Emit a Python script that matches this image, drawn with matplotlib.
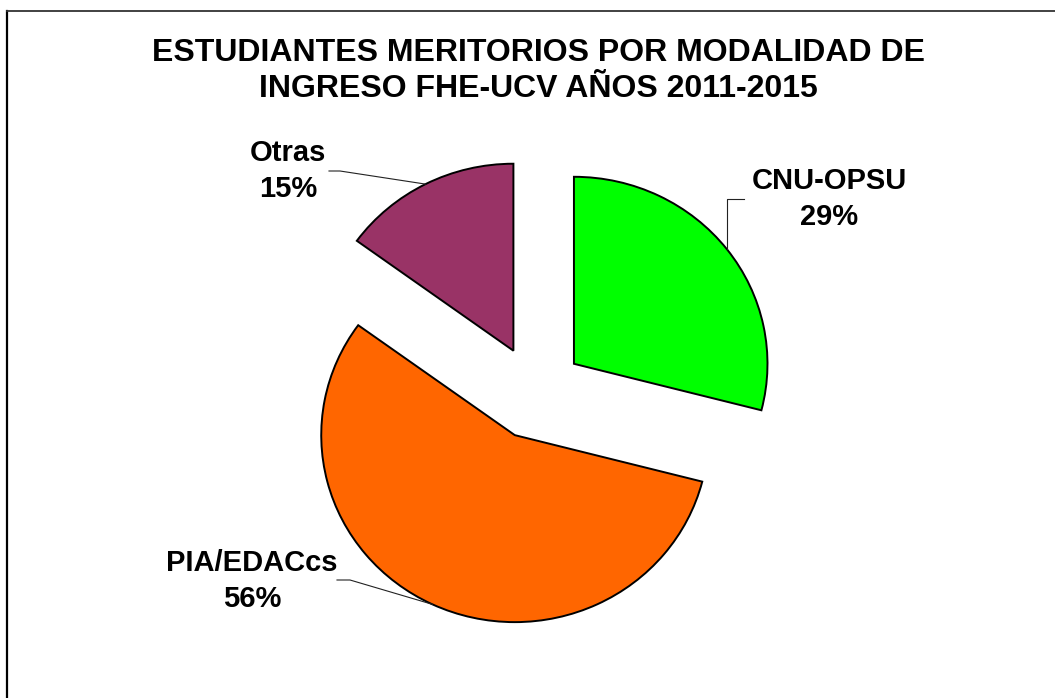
import numpy as np
import matplotlib
matplotlib.use("Agg")
import matplotlib.pyplot as plt
from matplotlib.lines import Line2D

# ---- data ----
categories = ["CNU-OPSU", "PIA/EDACcs", "Otras"]
values = [29, 56, 15]
colors = ["#00FF00", "#FF6600", "#993366"]
title = "ESTUDIANTES MERITORIOS POR MODALIDAD DE\nINGRESO FHE-UCV AÑOS 2011-2015"

plt.rcParams['font.family'] = ['Liberation Sans', 'DejaVu Sans']

W, H = 1055, 698
SX = 1.035  # slight horizontal stretch of the pie, as in the original
fig = plt.figure(figsize=(W / 100, H / 100), dpi=100)
ax = fig.add_axes([0, 0, 1, 1])

center = (535.5 / SX, H - 392.6)
radius = 187
wedges, _ = ax.pie(values, colors=colors, startangle=90, counterclock=False,
                   radius=radius, center=center, explode=[47, 47, 47],
                   wedgeprops=dict(edgecolor="black", linewidth=1.4))
ax.set_xlim(0, W / SX)
ax.set_ylim(0, H)
ax.set_aspect('auto')
ax.axis('off')

ov = fig.add_axes([0, 0, 1, 1], facecolor="none")
ov.set_xlim(0, W)
ov.set_ylim(0, H)
ov.axis('off')

# border of chart area
fig.add_artist(Line2D([7 / W, 7 / W], [0, 1 - 11 / H], color="black", lw=1.6))
fig.add_artist(Line2D([7 / W, 1], [1 - 11 / H, 1 - 11 / H], color="#333333", lw=1.3))

# title
ov.text(538, H - 71, title, ha="center", va="center", fontsize=23,
        fontweight="bold", linespacing=1.3)

def arc_mid(w):
    t = np.deg2rad((w.theta1 + w.theta2) / 2)
    cx, cy = w.center
    return (cx + w.r * np.cos(t)) * SX, cy + w.r * np.sin(t)

pcts = [f"{v}%" for v in values]
label_pos = {0: (829, H - 199), 1: (252, H - 581), 2: (288, H - 171)}
for i, w in enumerate(wedges):
    x, y = label_pos[i]
    ov.text(x, y, f"{categories[i]}\n{pcts[i]}", ha="center", va="center",
            fontsize=21, fontweight="bold", linespacing=1.35)
    ex, ey = arc_mid(w)
    if i == 0:
        pts = [(744, H - 199), (ex, H - 199), (ex, ey)]
    elif i == 1:
        pts = [(337, H - 580), (350, H - 580), (ex, ey)]
    else:
        pts = [(329, H - 171), (340, H - 171), (ex, ey)]
    xs, ys = zip(*pts)
    ov.plot(xs, ys, color="#222222", lw=0.8)

fig.savefig("out.png", dpi=100)
